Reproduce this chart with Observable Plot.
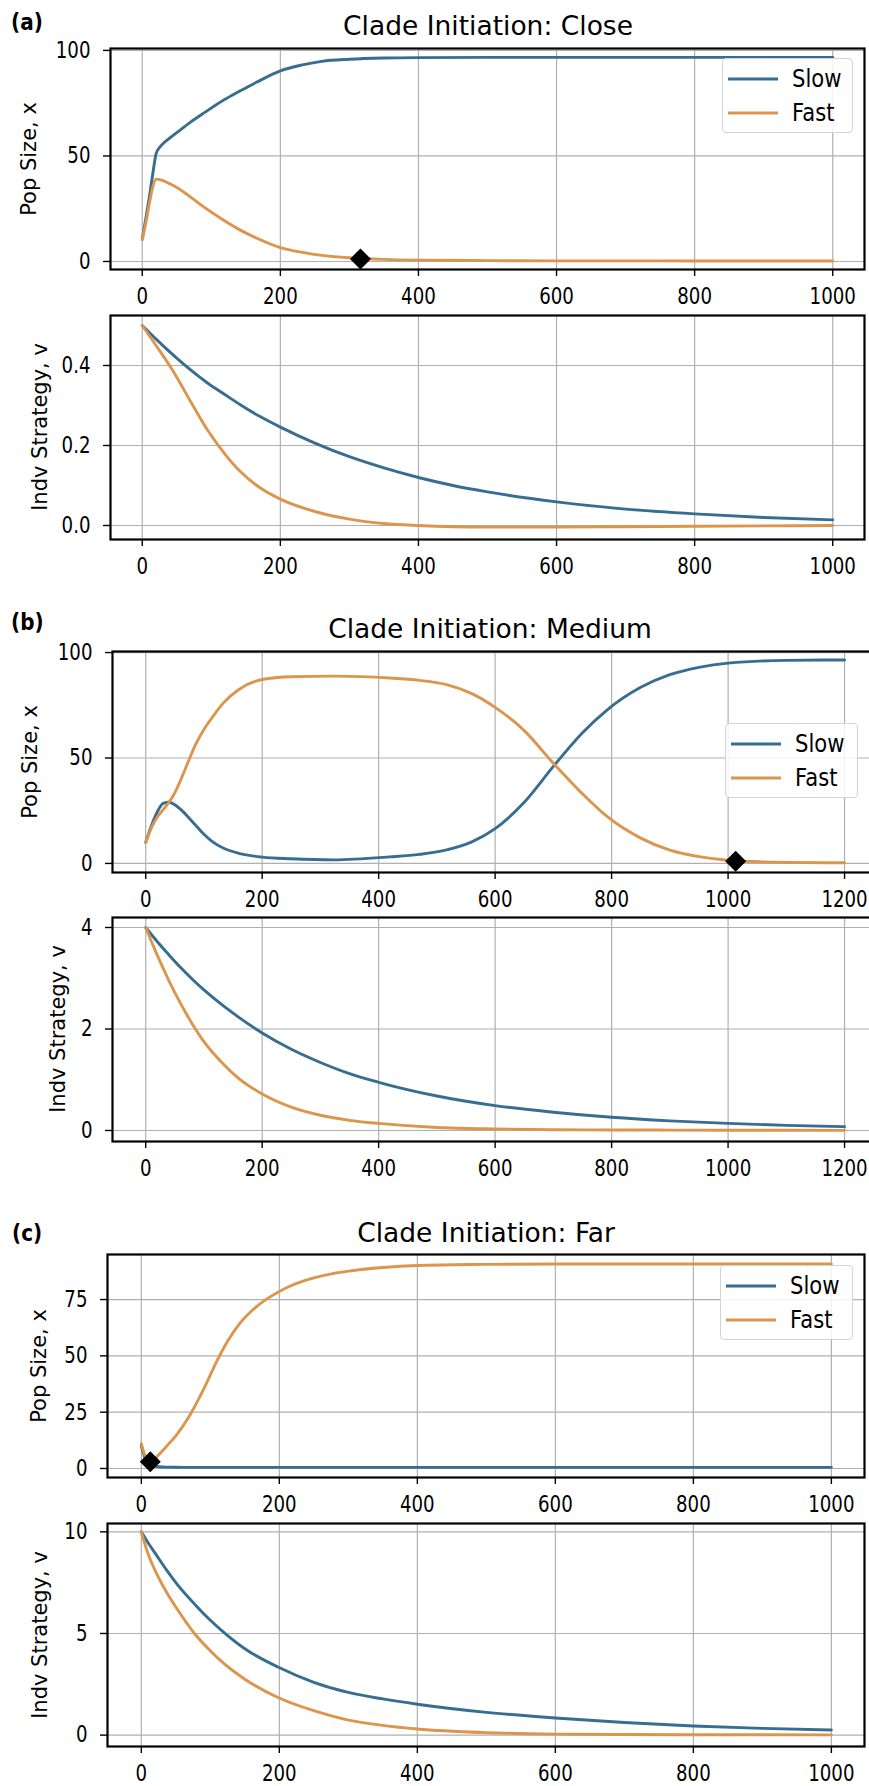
<!DOCTYPE html>
<html>
<head>
<meta charset="utf-8">
<script src="https://cdn.jsdelivr.net/npm/d3@7"></script>
<script src="https://cdn.jsdelivr.net/npm/@observablehq/plot@0.6"></script>
<style>
html, body { margin: 0; padding: 0; background: #fff; overflow: hidden; }
#fig { position: relative; width: 869px; height: 1786px; overflow: hidden; font-family: "DejaVu Sans", sans-serif; color: #000; background: #fff; }
.abs { position: absolute; white-space: nowrap; line-height: 1; }
.title { font-size: 26.5px; }
.plab { font-size: 23px; font-weight: bold; transform-origin: 0 0; transform: scaleX(0.87); }
.ylab { font-size: 21px; }
.legend { position: absolute; border: 1px solid #d4d4d4; border-radius: 4px; background: rgba(255,255,255,0.85); box-sizing: border-box; }
.legend .lt { position: absolute; font-size: 24px; line-height: 1; white-space: nowrap; transform-origin: 0 0; transform: scaleX(0.88); }
.legend svg { position: absolute; left: 0; top: 0; overflow: visible; }
svg.panel { position: absolute; left: 0; }
</style>
</head>
<body>
<div id="fig"></div>
<script>
// ---------------- data ----------------
const seriesNames = ["Slow", "Fast"];
const titles = ["Clade Initiation: Close", "Clade Initiation: Medium", "Clade Initiation: Far"];
const panelLabels = ["(a)", "(b)", "(c)"];
const popLabel = "Pop Size, x";
const stratLabel = "Indv Strategy, v";

// (a) Close
const timePopA = [0,5,10,15,20,25,30,40,50,70,90,118,140,166,200,230,260,300,350,400,500,600,700,800,900,1000];
const slowPopA = [10.5,20,30,41,51,54,55.8,58.5,61,66,70.5,76.5,80.5,85,90.3,93,94.8,95.8,96.4,96.6,96.7,96.7,96.7,96.7,96.7,96.7];
const fastPopA = [10.5,18,27,35,39,38.8,38.3,36.8,35,30.5,25.6,19.5,15.2,11,6.6,4.4,2.9,1.75,1.0,0.65,0.4,0.3,0.3,0.25,0.2,0.2];
const timeStratA = [0,20,45,70,94,120,142,170,200,250,300,350,400,450,500,600,700,800,900,1000];
const slowStratA = [0.50,0.466,0.426,0.389,0.357,0.327,0.302,0.273,0.246,0.206,0.172,0.144,0.12,0.1,0.084,0.059,0.041,0.029,0.02,0.014];
const fastStratA = [0.50,0.45,0.385,0.31,0.24,0.178,0.135,0.095,0.066,0.035,0.016,0.005,0.0,-0.003,-0.004,-0.004,-0.003,-0.002,-0.001,0.0];
const markerA = [{t: 316, v: 1.2}];

// (b) Medium
const timePopB = [0,10,20,30,40,50,60,72,85,100,115,133,160,200,250,324,419,470,515,560,600,650,700,750,791,850,900,950,1000,1100,1200];
const slowPopB = [10,18,24.5,28.5,29,27.8,25.6,22.3,18.3,13.8,10.2,7.3,4.8,3.0,2.2,1.7,3.1,4.3,6.3,10.2,16.5,29,46,62,72.5,83.5,89.5,93,95,96.3,96.5];
const fastPopB = [10,17,22,25.5,29,33.5,39.5,47.5,56,63.5,69.5,76,82.5,87.2,88.5,88.8,87.9,86.8,84.9,80.5,74,63,47.5,33,22.5,12,6.3,3.2,1.5,0.5,0.3];
const timeStratB = [0,20,40,60,80,100,134,160,200,250,300,350,400,500,600,700,800,900,1000,1100,1200];
const slowStratB = [4,3.72,3.46,3.21,2.98,2.77,2.45,2.23,1.92,1.6,1.34,1.12,0.95,0.68,0.49,0.36,0.26,0.19,0.14,0.1,0.075];
const fastStratB = [4,3.45,2.95,2.5,2.1,1.75,1.3,1.02,0.72,0.46,0.3,0.2,0.14,0.06,0.03,0.015,0.01,0.008,0.005,0.004,0.003];
const markerB = [{t: 1013, v: 1.0}];

// (c) Far
const timePopC = [0,5,13,25,37,50,71,90,110,125,143,160,182,200,216,250,279,300,350,400,500,600,700,800,900,1000];
const slowPopC = [10,5,1.5,0.8,0.6,0.55,0.5,0.5,0.5,0.5,0.5,0.5,0.5,0.5,0.5,0.5,0.5,0.5,0.5,0.5,0.5,0.5,0.5,0.5,0.5,0.5];
const fastPopC = [11,6,3,6,10,14.5,24,35,48,56.5,64.5,70,75.3,78.6,81,84.6,86.6,87.6,89.2,90.1,90.6,90.8,90.8,90.8,90.8,90.8];
const timeStratC = [0,10,20,37,50,77,100,117,150,198,250,300,350,400,500,600,700,800,900,1000];
const slowStratC = [10,9.45,8.95,8.1,7.5,6.45,5.65,5.13,4.25,3.35,2.6,2.1,1.78,1.52,1.12,0.84,0.62,0.45,0.33,0.25];
const fastStratC = [10,8.9,8.1,7.0,6.3,5.0,4.15,3.6,2.75,1.85,1.2,0.74,0.48,0.3,0.12,0.05,0.03,0.02,0.015,0.01];
const markerC = [{t: 13, v: 3}];

// ticks
const xTicks1000 = [0,200,400,600,800,1000];
const xTicks1200 = [0,200,400,600,800,1000,1200];
const yTicksPopAB = [0,50,100];
const yTicksStratA = [0,0.2,0.4];
const yTicksStratB = [0,2,4];
const yTicksPopC = [0,25,50,75];
const yTicksStratC = [0,5,10];

// ---------------- drawing ----------------
const slowColor = "#386d92";
const fastColor = "#dc954d";
const fig = document.getElementById("fig");
const W = 869;

function toRows(t, slow, fast) {
  const rows = [];
  t.forEach((ti, i) => rows.push({t: ti, v: slow[i], s: seriesNames[0]}));
  t.forEach((ti, i) => rows.push({t: ti, v: fast[i], s: seriesNames[1]}));
  return rows;
}

// horizontally condense tick labels (the reference's digits are narrow)
function squeeze(svg, k) {
  svg.querySelectorAll('g[aria-label$="tick label"] text').forEach(el => {
    const L = el.getComputedTextLength();
    el.setAttribute("textLength", (L * k).toFixed(2));
    el.setAttribute("lengthAdjust", "spacingAndGlyphs");
  });
}

function panel(cfg) {
  const mt = 14, mb = 42;
  const height = cfg.bottom - cfg.top + mt + mb;
  const rows = toRows(cfg.t, cfg.slow, cfg.fast);
  const svg = Plot.plot({
    width: W,
    height,
    marginTop: mt,
    marginBottom: mb,
    marginLeft: cfg.left,
    marginRight: W - cfg.right,
    x: {domain: cfg.xDomain},
    y: {domain: cfg.yDomain},
    color: {domain: seriesNames, range: [slowColor, fastColor]},
    style: {background: "transparent", fontFamily: "DejaVu Sans, sans-serif", color: "#000", overflow: "visible"},
    marks: [
      Plot.gridX(cfg.xTicks, {stroke: "#b0b0b0", strokeOpacity: 1, strokeWidth: 1.2}),
      Plot.gridY(cfg.yTicks, {stroke: "#b0b0b0", strokeOpacity: 1, strokeWidth: 1.2}),
      Plot.line(rows, {x: "t", y: "v", z: "s", stroke: "s", strokeWidth: 2.9, curve: "monotone-x"}),
      cfg.marker ? Plot.dot(cfg.marker, {x: "t", y: "v", symbol: "diamond2", r: 8.5, fill: "#000", stroke: "#000"}) : null,
      Plot.axisX(cfg.xTicks, {tickSize: 7, tickPadding: 11, strokeWidth: 1.4, fontSize: 23, tickFormat: d3.format("d"), label: null}),
      Plot.axisY(cfg.yTicks, {tickSize: 7, tickPadding: 13, strokeWidth: 1.4, fontSize: 23, tickFormat: cfg.yFormat, label: null}),
      Plot.frame({stroke: "#000", strokeWidth: 2.2})
    ]
  });
  svg.classList.add("panel");
  svg.style.top = (cfg.top - mt) + "px";
  fig.appendChild(svg);
  squeeze(svg, 0.79);
}

function addText(text, cls, x, baseline, fs, anchor) {
  const d = document.createElement("div");
  d.className = "abs " + cls;
  d.textContent = text;
  d.style.top = (baseline - 0.846 * fs) + "px";
  d.style.left = x + "px";
  if (anchor === "middle") d.style.transform = "translateX(-50%)";
  fig.appendChild(d);
}

function addYLabel(text, cx, cy) {
  const d = document.createElement("div");
  d.className = "abs ylab";
  d.textContent = text;
  d.style.left = cx + "px";
  d.style.top = cy + "px";
  d.style.transform = "translate(-50%,-50%) rotate(-90deg)";
  fig.appendChild(d);
}

function addLegend(left, top, w, h) {
  const box = document.createElement("div");
  box.className = "legend";
  box.style.left = left + "px";
  box.style.top = top + "px";
  box.style.width = w + "px";
  box.style.height = h + "px";
  const ns = "http://www.w3.org/2000/svg";
  const s = document.createElementNS(ns, "svg");
  s.setAttribute("width", w);
  s.setAttribute("height", h);
  [slowColor, fastColor].forEach((c, i) => {
    const ln = document.createElementNS(ns, "line");
    const y = 20 + i * 34;
    ln.setAttribute("x1", 5); ln.setAttribute("x2", 55);
    ln.setAttribute("y1", y); ln.setAttribute("y2", y);
    ln.setAttribute("stroke", c); ln.setAttribute("stroke-width", 2.9);
    s.appendChild(ln);
  });
  box.appendChild(s);
  seriesNames.forEach((n, i) => {
    const t = document.createElement("div");
    t.className = "lt";
    t.textContent = n;
    t.style.left = "69px";
    t.style.top = (20 + i * 34 + 8.7 - 0.846 * 24) + "px";
    box.appendChild(t);
  });
  fig.appendChild(box);
}

const fmtInt = d3.format("d");
const fmt1 = d3.format(".1f");

// (a)
panel({top: 48, bottom: 269, left: 110, right: 864, xDomain: [-46, 1046], yDomain: [-3.8, 100.9],
  xTicks: xTicks1000, yTicks: yTicksPopAB, yFormat: fmtInt, t: timePopA, slow: slowPopA, fast: fastPopA, marker: markerA});
panel({top: 315, bottom: 539, left: 110, right: 864, xDomain: [-46, 1046], yDomain: [-0.035, 0.525],
  xTicks: xTicks1000, yTicks: yTicksStratA, yFormat: fmt1, t: timeStratA, slow: slowStratA, fast: fastStratA});
// (b)
panel({top: 651, bottom: 872, left: 112, right: 879, xDomain: [-57, 1260], yDomain: [-4.3, 100.5],
  xTicks: xTicks1200, yTicks: yTicksPopAB, yFormat: fmtInt, t: timePopB, slow: slowPopB, fast: fastPopB, marker: markerB});
panel({top: 917, bottom: 1141, left: 112, right: 879, xDomain: [-57, 1260], yDomain: [-0.217, 4.197],
  xTicks: xTicks1200, yTicks: yTicksStratB, yFormat: fmtInt, t: timeStratB, slow: slowStratB, fast: fastStratB});
// (c)
panel({top: 1254, bottom: 1477, left: 107, right: 864, xDomain: [-49, 1048], yDomain: [-4.0, 95.0],
  xTicks: xTicks1000, yTicks: yTicksPopC, yFormat: fmtInt, t: timePopC, slow: slowPopC, fast: fastPopC, marker: markerC});
panel({top: 1523, bottom: 1746, left: 107, right: 864, xDomain: [-49, 1048], yDomain: [-0.56, 10.41],
  xTicks: xTicks1000, yTicks: yTicksStratC, yFormat: fmtInt, t: timeStratC, slow: slowStratC, fast: fastStratC});

// titles & panel labels
addText(titles[0], "title", 488, 35, 26.5, "middle");
addText(titles[1], "title", 490, 638, 26.5, "middle");
addText(titles[2], "title", 486, 1242, 26.5, "middle");
addText(panelLabels[0], "plab", 11, 30, 23);
addText(panelLabels[1], "plab", 11, 630, 23);
addText(panelLabels[2], "plab", 12, 1241, 23);

// y labels
addYLabel(popLabel, 29, 158.5);
addYLabel(stratLabel, 40, 427);
addYLabel(popLabel, 30, 761.5);
addYLabel(stratLabel, 58, 1029);
addYLabel(popLabel, 39, 1365.5);
addYLabel(stratLabel, 40, 1634.5);

// legends
addLegend(722, 58, 131, 75);
addLegend(725, 723, 133, 75);
addLegend(720, 1265, 133, 75);
</script>
</body>
</html>
